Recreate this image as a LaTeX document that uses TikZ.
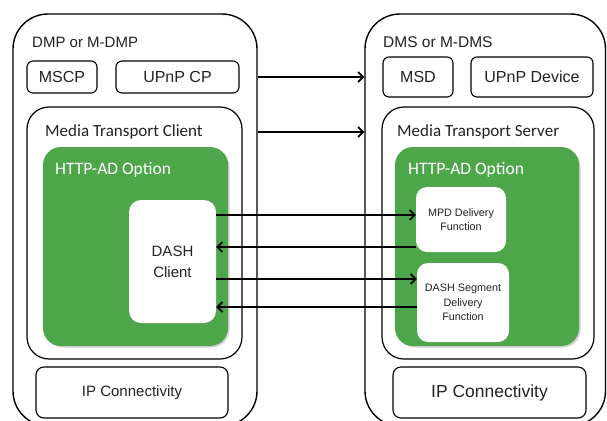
\documentclass[tikz,border=0pt]{standalone}
\usepackage{fontspec}
\setmainfont{Liberation Sans}
\newfontfamily\calib{Carlito}
\usetikzlibrary{arrows.meta,shadows}
\definecolor{leaf}{HTML}{4EA64B}
\definecolor{ink}{HTML}{222222}
\tikzset{
  frame/.style={draw=black, line width=1.4pt, fill=white, rounded corners=35pt, inner sep=0pt},
  inner/.style={draw=black, line width=1.2pt, fill=white, rounded corners=22pt, inner sep=0pt},
  unit/.style={draw=black, line width=1.1pt, fill=white, rounded corners=6pt, inner sep=0pt, text=ink, font=\fontsize{16}{18}\selectfont},
  option/.style={fill=leaf, rounded corners=18pt, inner sep=0pt,
    drop shadow={opacity=0.35, shadow xshift=1.5pt, shadow yshift=-1.5pt, fill=gray}},
  func/.style={fill=white, rounded corners=11pt, inner sep=0pt, align=center, text=ink},
  lbl/.style={anchor=west, inner sep=0pt, text=ink},
  arr/.style={line width=1.8pt, -{Straight Barb[length=5pt,width=10pt,line width=1.8pt]}}
}
\begin{document}
\begin{tikzpicture}[x=1pt,y=-1pt]
\useasboundingbox (0,0) rectangle (607,420);
\clip (0,0) rectangle (607,420);

% player side
\node[frame, minimum width=244pt, minimum height=412pt] (dmp) at (135,220) {};
\node[lbl, font=\fontsize{15}{17}\selectfont] (dmpt) at (32,42) {DMP or M-DMP};
\node[unit, minimum width=70pt, minimum height=32pt] (mscp) at (62,77) {MSCP};
\node[unit, minimum width=123pt, minimum height=32pt] (upnpcp) at (177.5,77) {UPnP CP};
\node[inner, minimum width=215pt, minimum height=252pt] (mtc) at (134.5,233) {};
\node[lbl, font=\calib\fontsize{17}{19}\selectfont] (mtct) at (45,132) {Media Transport Client};
\node[option, minimum width=185pt, minimum height=199pt] (optl) at (135.5,246.5) {};
\node[lbl, text=white, font=\calib\fontsize{17.5}{19}\selectfont] (optlt) at (55,170) {HTTP-AD Option};
\node[func, rounded corners=12pt, minimum width=87pt, minimum height=123pt,
      font=\fontsize{15}{21}\selectfont] (dash) at (172.5,261.5) {DASH\\Client};
\node[unit, rounded corners=8pt, minimum width=192pt, minimum height=51pt,
      font=\fontsize{15}{17}\selectfont] (ipl) at (132,392.5) {IP Connectivity};

% server side
\node[frame, minimum width=240.5pt, minimum height=412pt] (dms) at (485.25,220) {};
\node[lbl, font=\fontsize{15.5}{17}\selectfont] (dmst) at (383,42) {DMS or M-DMS};
\node[unit, minimum width=70pt, minimum height=40pt] (msd) at (418,77) {MSD};
\node[unit, minimum width=122pt, minimum height=40pt] (upnpd) at (532,77) {UPnP Device};
\node[inner, minimum width=212pt, minimum height=252pt] (mts) at (488,233) {};
\node[lbl, font=\calib\fontsize{17}{19}\selectfont] (mtst) at (397,132) {Media Transport Server};
\node[option, minimum width=184pt, minimum height=199pt] (optr) at (487,246.5) {};
\node[lbl, text=white, font=\calib\fontsize{17.5}{19}\selectfont] (optrt) at (408,170) {HTTP-AD Option};
\node[func, minimum width=90pt, minimum height=65pt,
      font=\fontsize{10.8}{14.5}\selectfont] (mpd) at (461,219.5) {MPD Delivery\\Function};
\node[func, minimum width=92pt, minimum height=79pt,
      font=\fontsize{10.8}{14.5}\selectfont] (seg) at (463,302.5) {DASH Segment\\Delivery\\Function};
\node[unit, rounded corners=8pt, minimum width=193pt, minimum height=51pt,
      font=\fontsize{17.5}{19}\selectfont] (ipr) at (489.5,392.5) {IP Connectivity};

% control and transport links
\draw[arr] (dmp.east |- upnpcp.east) -- (dms.west |- msd.west);
\draw[arr] (dmp.east |- mtct.west) -- (dms.west |- mtst.west);

% DASH request / response exchange
\draw[arr] (dash.east |- 0,215) -- (mpd.west |- 0,215);
\draw[arr] (mpd.west |- 0,247) -- (dash.east |- 0,247);
\draw[arr] (dash.east |- 0,279) -- (seg.west |- 0,279);
\draw[arr] (seg.west |- 0,307) -- (dash.east |- 0,307);
\end{tikzpicture}
\end{document}
